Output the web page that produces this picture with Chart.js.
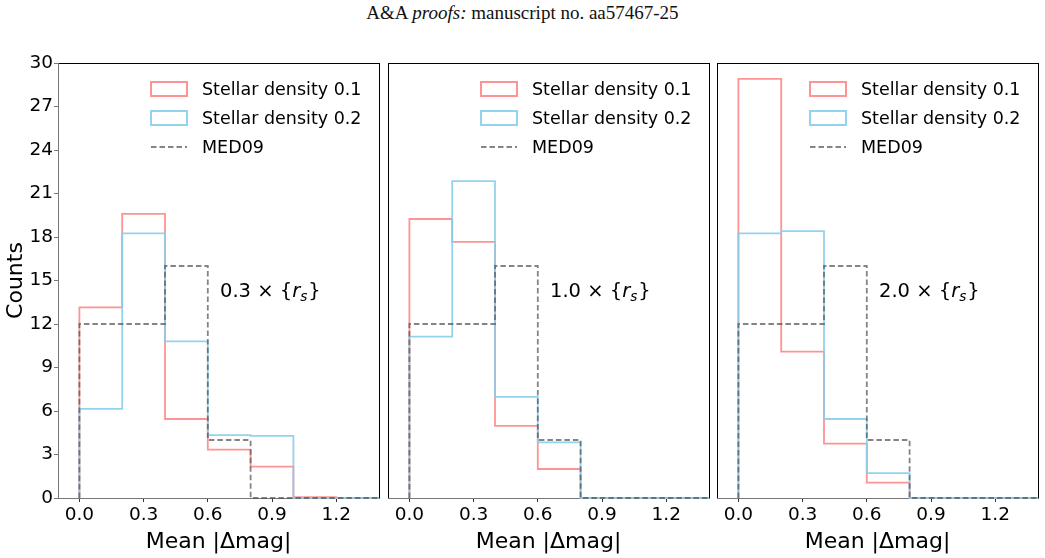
<!DOCTYPE html>
<html>
<head>
<meta charset="utf-8">
<script src="https://cdn.jsdelivr.net/npm/chart.js@4/dist/chart.umd.min.js"></script>
<style>
  html, body { margin: 0; padding: 0; background: #fff; }
  #wrap { position: relative; width: 1045px; height: 558px; overflow: hidden; background: #fff; }
  canvas { position: absolute; left: 0; top: 0; }
  #hdr { position: absolute; top: 2px; left: 0; width: 1045px; text-align: center;
         font-family: "Liberation Serif", serif; font-size: 19px; color: #111; }
</style>
</head>
<body>
<div id="wrap">
  <div id="hdr">A&amp;A <i>proofs:</i> manuscript no. aa57467-25</div>
  <canvas id="c1" width="1045" height="558"></canvas>
  <canvas id="c2" width="1045" height="558"></canvas>
  <canvas id="c3" width="1045" height="558"></canvas>
</div>
<script>
// ---------------- data ----------------
const binEdges = [0, 0.2, 0.4, 0.6, 0.8, 1.0, 1.2, 1.4];
const xTicks = [0, 0.3, 0.6, 0.9, 1.2];
const yTicks = [0, 3, 6, 9, 12, 15, 18, 21, 24, 27, 30];
const seriesNames = ['Stellar density 0.1', 'Stellar density 0.2', 'MED09'];
const panelFactors = ['0.3', '1.0', '2.0'];

const med09 = [12, 12, 16, 4, 0, 0, 0];

const p1Density01 = [13.15, 19.6, 5.45, 3.33, 2.16, 0.06, 0];
const p1Density02 = [6.14, 18.25, 10.8, 4.34, 4.28, 0, 0];

const p2Density01 = [19.24, 17.66, 4.97, 2.0, 0, 0, 0];
const p2Density02 = [11.13, 21.86, 6.97, 3.84, 0, 0, 0];

const p3Density01 = [28.9, 10.1, 3.75, 1.06, 0, 0, 0];
const p3Density02 = [18.25, 18.4, 5.45, 1.72, 0, 0, 0];

// ---------------- layout ----------------
const W = 1045, H = 558;
const plotTop = 63, plotBottom = 498;
const panels = [
  { id: 'c1', left: 58, right: 379, d1: p1Density01, d2: p1Density02, showY: true },
  { id: 'c2', left: 388, right: 709, d1: p2Density01, d2: p2Density02, showY: false },
  { id: 'c3', left: 717, right: 1038, d1: p3Density01, d2: p3Density02, showY: false }
];

const RED = 'rgba(255,120,120,0.8)';
const BLUE = 'rgba(135,206,235,0.9)';
const GRAY = 'rgba(80,80,80,0.7)';
const FONT = '"DejaVu Sans", sans-serif';

function stepPoints(counts) {
  const pts = [{ x: binEdges[0], y: 0 }];
  counts.forEach((c, i) => pts.push({ x: binEdges[i], y: c }));
  const last = binEdges[binEdges.length - 1];
  pts.push({ x: last, y: counts[counts.length - 1] });
  pts.push({ x: last, y: 0 });
  return pts;
}

const spinePlugin = {
  id: 'spines',
  beforeDatasetsDraw(chart, args, opts) {
    const { ctx, chartArea: a } = chart;
    ctx.save();
    ctx.lineWidth = 1;
    ctx.strokeStyle = '#000';
    ctx.beginPath();
    ctx.moveTo(a.left, a.top + 0.5); ctx.lineTo(a.right, a.top + 0.5);
    ctx.moveTo(a.right + 0.5, a.top); ctx.lineTo(a.right + 0.5, a.bottom);
    ctx.stroke();
    ctx.strokeStyle = opts.leftColor || '#000';
    ctx.beginPath();
    ctx.moveTo(a.left + 0.5, a.top); ctx.lineTo(a.left + 0.5, a.bottom);
    ctx.stroke();
    ctx.strokeStyle = '#777';
    ctx.beginPath();
    ctx.moveTo(a.left, a.bottom + 0.5); ctx.lineTo(a.right + 1, a.bottom + 0.5);
    ctx.stroke();
    ctx.restore();
  }
};

const legendPlugin = {
  id: 'mplLegend',
  afterDraw(chart) {
    const { ctx, chartArea: a } = chart;
    ctx.save();
    chart.data.datasets.forEach((ds, i) => {
      const cy = a.top + 26 + 29 * i;
      const bx = a.left + 93, bw = 36, bh = 14;
      ctx.lineWidth = 2;
      ctx.strokeStyle = ds.borderColor;
      if (ds.borderDash && ds.borderDash.length) {
        ctx.setLineDash(ds.borderDash);
        ctx.beginPath();
        ctx.moveTo(bx, cy); ctx.lineTo(bx + bw, cy);
        ctx.stroke();
        ctx.setLineDash([]);
      } else {
        ctx.strokeRect(bx, cy - bh / 2, bw, bh);
      }
      ctx.fillStyle = '#000';
      ctx.font = '17.5px ' + FONT;
      ctx.textBaseline = 'middle';
      ctx.textAlign = 'left';
      ctx.fillText(ds.label, a.left + 144, cy + 1);
    });
    ctx.restore();
  }
};

const notePlugin = {
  id: 'note',
  afterDraw(chart, args, opts) {
    const { ctx, chartArea: a } = chart;
    ctx.save();
    ctx.fillStyle = '#000';
    ctx.textBaseline = 'alphabetic';
    ctx.textAlign = 'left';
    let x = a.left + 162;
    const y = a.top + 234;
    const fs = 19.5;
    ctx.font = fs + 'px ' + FONT;
    const part1 = opts.factor + ' \u00D7 {';
    ctx.fillText(part1, x, y); x += ctx.measureText(part1).width;
    ctx.font = 'italic ' + fs + 'px ' + FONT;
    ctx.fillText('r', x, y); x += ctx.measureText('r').width;
    ctx.font = 'italic ' + (fs * 0.7) + 'px ' + FONT;
    ctx.fillText('s', x, y + 4); x += ctx.measureText('s').width + 1;
    ctx.font = fs + 'px ' + FONT;
    ctx.fillText('}', x, y);
    ctx.restore();
  }
};

panels.forEach((p, idx) => {
  const datasets = [
    { label: seriesNames[0], data: stepPoints(p.d1), borderColor: RED, order: 2 },
    { label: seriesNames[1], data: stepPoints(p.d2), borderColor: BLUE, order: 1 },
    { label: seriesNames[2], data: stepPoints(med09), borderColor: GRAY, borderDash: [5.5, 3], order: 0 }
  ].map(d => Object.assign({
    stepped: 'before', borderWidth: 1.8, pointRadius: 0, fill: false, clip: 6,
    backgroundColor: 'transparent'
  }, d));

  new Chart(document.getElementById(p.id), {
    type: 'line',
    data: { datasets },
    plugins: [spinePlugin, legendPlugin, notePlugin],
    options: {
      responsive: false,
      animation: false,
      events: [],
      layout: { padding: { left: p.showY ? 0 : p.left, right: W - p.right, top: plotTop, bottom: 0 } },
      plugins: {
        legend: { display: false },
        tooltip: { enabled: false },
        spines: { leftColor: p.showY ? '#777' : '#000' },
        note: { factor: panelFactors[idx] }
      },
      scales: {
        x: {
          type: 'linear',
          min: -0.1, max: 1.4,
          afterBuildTicks: s => { s.ticks = xTicks.map(v => ({ value: v })); },
          afterFit: s => { s.height = H - plotBottom; },
          border: { display: false },
          grid: { drawOnChartArea: false, drawTicks: true, tickLength: 4, color: '#333', tickWidth: 1 },
          ticks: {
            color: '#000', font: { family: FONT, size: 18.5 }, padding: 2,
            maxRotation: 0, autoSkip: false,
            callback: v => Number(v).toFixed(1)
          },
          title: { display: true, text: 'Mean |\u0394mag|', color: '#000',
                   font: { family: FONT, size: 22 }, padding: { top: 0, bottom: 3 } }
        },
        y: {
          type: 'linear',
          min: 0, max: 30,
          display: p.showY,
          afterBuildTicks: s => { s.ticks = yTicks.map(v => ({ value: v })); },
          afterFit: s => { if (p.showY) s.width = p.left; },
          border: { display: false },
          grid: { drawOnChartArea: false, drawTicks: true, tickLength: 4, color: '#777', tickWidth: 1 },
          ticks: { color: '#000', font: { family: FONT, size: 18.5 }, padding: 1, autoSkip: false },
          title: { display: true, text: 'Counts', color: '#000',
                   font: { family: FONT, size: 22 }, padding: { top: 3, bottom: 0 } }
        }
      }
    }
  });
});
</script>
</body>
</html>
